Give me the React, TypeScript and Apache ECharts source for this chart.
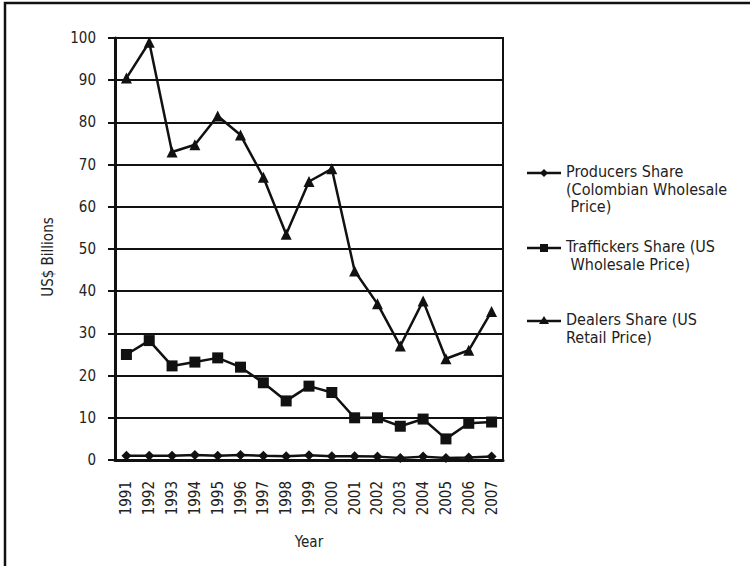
import React, { useEffect, useRef } from "react";
import * as echarts from "echarts";

const years = ["1991","1992","1993","1994","1995","1996","1997","1998","1999","2000","2001","2002","2003","2004","2005","2006","2007"];
const producers = [1.0, 1.0, 1.0, 1.2, 1.0, 1.2, 1.0, 0.9, 1.1, 0.9, 0.9, 0.8, 0.5, 0.8, 0.5, 0.6, 0.8];
const traffickers = [25, 28.3, 22.3, 23.2, 24.2, 22, 18.3, 14, 17.5, 16, 10, 10, 8, 9.7, 5, 8.7, 9];
const dealers = [90.5, 99, 73, 74.7, 81.5, 77, 67, 53.5, 66, 69, 44.8, 37, 27, 37.7, 24, 26, 35.2];
const seriesNames = [
  "Producers Share\n(Colombian Wholesale\n Price)",
  "Traffickers Share (US\n Wholesale Price)",
  "Dealers Share (US\nRetail Price)",
];
const yTicks = { min: 0, max: 100, interval: 10 };

const FONT = "DejaVu Sans Condensed";
const INK = "#111";
const TXT = "#222";

export default function App() {
  const ref = useRef<HTMLDivElement>(null);
  useEffect(() => {
    document.body.style.margin = "0";
    const chart = echarts.init(ref.current!, null, { renderer: "svg" });
    const legendYs = [173, 248, 321];
    const legendSymbols: any[] = [];
    legendYs.forEach((y, i) => {
      legendSymbols.push({ type: "line", shape: { x1: 527, y1: y, x2: 561, y2: y }, style: { stroke: INK, lineWidth: 2.5 } });
      if (i === 0) {
        legendSymbols.push({ type: "polygon", shape: { points: [[544, y - 4], [548, y], [544, y + 4], [540, y]] }, style: { fill: INK } });
      } else if (i === 1) {
        legendSymbols.push({ type: "rect", shape: { x: 540, y: y - 4, width: 8, height: 8 }, style: { fill: INK } });
      } else {
        legendSymbols.push({ type: "polygon", shape: { points: [[544, y - 5], [549, y + 3], [539, y + 3]] }, style: { fill: INK } });
      }
      legendSymbols.push({
        type: "text",
        x: 566,
        y: y - 10,
        style: { text: seriesNames[i], fill: TXT, font: `16px "${FONT}"`, lineHeight: 17.5, textVerticalAlign: "top" },
      });
    });
    const lineStyle = { color: INK, width: 2.5 };
    chart.setOption({
      animation: false,
      backgroundColor: "#fff",
      grid: { left: 115, top: 38, right: 247, bottom: 106, show: true, borderColor: INK, borderWidth: 2 },
      xAxis: {
        type: "category",
        data: years,
        boundaryGap: true,
        name: "Year",
        nameLocation: "middle",
        nameGap: 74,
        nameTextStyle: { fontFamily: FONT, fontSize: 15, color: TXT },
        axisLine: { lineStyle: { color: INK, width: 3 } },
        axisTick: { alignWithLabel: false, length: 6, lineStyle: { color: INK, width: 2 } },
        axisLabel: { rotate: 90, margin: 21, fontFamily: FONT, fontSize: 15, color: TXT },
        splitLine: { show: false },
      },
      yAxis: {
        type: "value",
        min: yTicks.min,
        max: yTicks.max,
        interval: yTicks.interval,
        axisLine: { show: true, lineStyle: { color: INK, width: 3 } },
        axisTick: { show: true, length: 7, lineStyle: { color: INK, width: 2 } },
        axisLabel: { margin: 19, fontFamily: FONT, fontSize: 15, color: TXT },
        splitLine: { show: true, lineStyle: { color: INK, width: 2 } },
      },
      graphic: [
        { type: "rect", shape: { x: 5, y: 3, width: 800, height: 600 }, style: { fill: "none", stroke: INK, lineWidth: 2.5 }, silent: true },
        {
          type: "text",
          x: 48,
          y: 257,
          rotation: Math.PI / 2,
          style: { text: "US$ Billions", fill: TXT, font: `15px "${FONT}"`, textAlign: "center", textVerticalAlign: "middle" },
        },
        ...legendSymbols,
      ],
      series: [
        { name: seriesNames[0], type: "line", data: producers, symbol: "diamond", symbolSize: 10, lineStyle, itemStyle: { color: INK } },
        { name: seriesNames[1], type: "line", data: traffickers, symbol: "rect", symbolSize: 11, lineStyle, itemStyle: { color: INK } },
        { name: seriesNames[2], type: "line", data: dealers, symbol: "triangle", symbolSize: 11, lineStyle, itemStyle: { color: INK } },
      ],
    });
    return () => chart.dispose();
  }, []);
  return <div ref={ref} style={{ width: 750, height: 566 }} />;
}
